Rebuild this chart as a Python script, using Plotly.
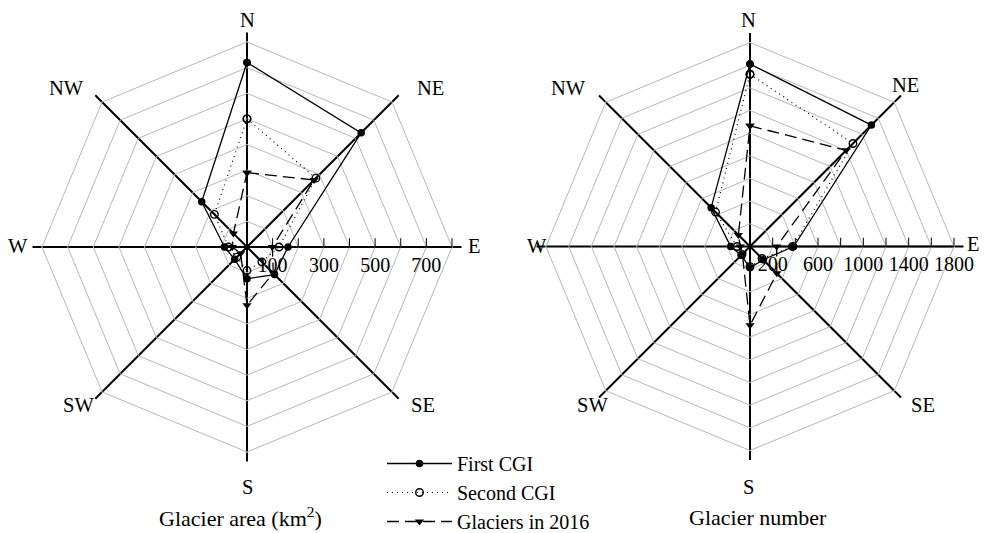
import plotly.graph_objects as go

# Aspect classes (clockwise from north)
directions = ["N", "NE", "E", "SE", "S", "SW", "W", "NW"]

# Glacier area (km2) per aspect
area_first = [720, 630, 160, 152, 124, 68, 88, 250]
area_second = [500, 380, 125, 82, 92, 56, 72, 180]
area_2016 = [290, 370, 99, 145, 227, 35, 57, 75]

# Glacier number per aspect
num_first = [1610, 1515, 385, 165, 188, 110, 170, 485]
num_second = [1520, 1285, 375, 150, 178, 100, 115, 430]
num_2016 = [1065, 1200, 235, 335, 695, 95, 85, 145]

# Radial ticks: every ring, only some labelled
area_ticks = [100, 200, 300, 400, 500, 600, 700, 800]
area_ticktext = ["100", "", "300", "", "500", "", "700", ""]
num_ticks = [200, 400, 600, 800, 1000, 1200, 1400, 1600, 1800]
num_ticktext = ["200", "", "600", "", "1000", "", "1400", "", "1800"]

FONT = "Liberation Serif"
GRID = "#b8b8b8"

series_styles = [
    ("First CGI", dict(color="black", width=1.3, dash="solid"),
     dict(symbol="circle", size=7.5, color="black")),
    ("Second CGI", dict(color="black", width=1.2, dash="1px,4px"),
     dict(symbol="circle-open", size=7.5, color="black", line=dict(width=1.4))),
    ("Glaciers in 2016", dict(color="black", width=1.3, dash="12px,6px"),
     dict(symbol="triangle-down", size=8, color="black")),
]


def closed(values):
    return list(values) + [values[0]]


theta = closed(directions)

fig = go.Figure()

for (name, line, marker), vals in zip(series_styles, [area_first, area_second, area_2016]):
    fig.add_trace(go.Scatterpolar(
        r=closed(vals), theta=theta, mode="lines+markers", name=name,
        line=line, marker=marker, subplot="polar", showlegend=True,
    ))

for (name, line, marker), vals in zip(series_styles, [num_first, num_second, num_2016]):
    fig.add_trace(go.Scatterpolar(
        r=closed(vals), theta=theta, mode="lines+markers", name=name,
        line=line, marker=marker, subplot="polar2", showlegend=False,
    ))


def polar_layout(domain_x, domain_y, rmax, tickvals, ticktext):
    return dict(
        domain=dict(x=domain_x, y=domain_y),
        gridshape="linear",
        bgcolor="white",
        angularaxis=dict(
            categoryorder="array", categoryarray=directions,
            direction="clockwise", rotation=90,
            showline=True, linecolor=GRID, linewidth=1,
            showgrid=True, gridcolor="black", gridwidth=1.6,
            ticks="outside", ticklen=9, tickcolor="black", tickwidth=1.6,
            showticklabels=False,
        ),
        radialaxis=dict(
            range=[0, rmax], angle=0, side="clockwise",
            tickvals=tickvals, ticktext=ticktext,
            tickfont=dict(family=FONT, size=20, color="black"),
            ticks="inside", ticklen=8, tickcolor="black", tickwidth=1.3,
            showline=True, linecolor="black", linewidth=1.6,
            showgrid=True, gridcolor=GRID, gridwidth=1,
        ),
    )


W, H = 984, 533
lx, ly, lr = 247, 247, 205
rx, ry, rr = 750, 246.5, 204

fig.update_layout(
    width=W, height=H,
    margin=dict(l=0, r=0, t=0, b=0, autoexpand=False),
    paper_bgcolor="white",
    font=dict(family=FONT, size=20, color="black"),
    polar=polar_layout([(lx - lr) / W, (lx + lr) / W],
                       [1 - (ly + lr) / H, 1 - (ly - lr) / H],
                       800, area_ticks, area_ticktext),
    polar2=polar_layout([(rx - rr) / W, (rx + rr) / W],
                        [1 - (ry + rr) / H, 1 - (ry - rr) / H],
                        1800, num_ticks, num_ticktext),
    legend=dict(
        x=382 / W, y=1 - 444 / H, xanchor="left", yanchor="top",
        font=dict(family=FONT, size=20, color="black"),
        bgcolor="rgba(0,0,0,0)", itemwidth=65, tracegroupgap=0,
    ),
)

# Aspect labels around each chart
left_labels = {"N": (247, 20), "NE": (430, 88), "E": (474, 246), "SE": (423, 405),
               "S": (247, 487), "SW": (78, 405), "W": (18, 246), "NW": (66, 88)}
right_labels = {"N": (748, 20), "NE": (905, 85), "E": (973, 244), "SE": (923, 405),
                "S": (748, 487), "SW": (592, 405), "W": (537, 246), "NW": (568, 88)}
for labels in (left_labels, right_labels):
    for text, (x, y) in labels.items():
        fig.add_annotation(x=x / W, y=1 - y / H, xref="paper", yref="paper",
                           xanchor="center", yanchor="middle",
                           text=text, showarrow=False,
                           font=dict(family=FONT, size=20.5, color="black"))

# Chart captions
fig.add_annotation(x=240 / W, y=1 - 517 / H, xref="paper", yref="paper",
                   xanchor="center", yanchor="middle",
                   text="Glacier area (km<sup>2</sup>)", showarrow=False,
                   font=dict(family=FONT, size=22, color="black"))
fig.add_annotation(x=758 / W, y=1 - 517 / H, xref="paper", yref="paper",
                   xanchor="center", yanchor="middle",
                   text="Glacier number", showarrow=False,
                   font=dict(family=FONT, size=22, color="black"))

fig.write_html("out.html")
